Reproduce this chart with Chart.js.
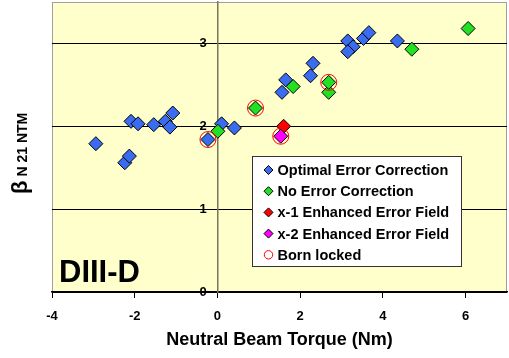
<!DOCTYPE html>
<html>
<head>
<meta charset="utf-8">
<script src="https://cdn.jsdelivr.net/npm/chart.js@4/dist/chart.umd.min.js"></script>
<style>
  body { margin: 0; background: #fff; }
  #wrap { width: 509px; height: 358px; }
</style>
</head>
<body>
<div id="wrap"><canvas id="chart"></canvas></div>
<script>
// values
const optimalX = [-2.94, -2.24, -2.13, -2.09, -1.92, -1.54, -1.26, -1.15, -1.08, -0.23, 0.10, 0.41, 1.56, 1.65, 2.25, 2.31, 3.15, 3.28, 3.15, 3.53, 3.66, 4.35];
const optimalY = [1.79, 1.56, 1.64, 2.06, 2.03, 2.02, 2.06, 1.99, 2.16, 1.84, 2.03, 1.98, 2.41, 2.56, 2.61, 2.76, 3.03, 2.96, 2.90, 3.06, 3.13, 3.03];
const noCorrX = [0.01, 0.92, 1.83, 2.69, 2.69, 4.70, 6.06];
const noCorrY = [1.94, 2.22, 2.48, 2.41, 2.53, 2.93, 3.18];
const enh1X = [1.60];
const enh1Y = [2.00];
const enh2X = [1.53];
const enh2Y = [1.88];
const lockedX = [-0.23, 0.92, 1.53, 2.69];
const lockedY = [1.84, 2.22, 1.88, 2.53];

const xTicks = [-4, -2, 0, 2, 4, 6];
const yTicks = [0, 1, 2, 3];

const pts = (xs, ys) => xs.map((x, i) => ({ x: x, y: ys[i] }));

const diamond = (label, xs, ys, color, order) => ({
    label: label,
    data: pts(xs, ys),
    pointStyle: 'rectRot',
    pointRadius: 7,
    pointHoverRadius: 7,
    backgroundColor: color,
    borderColor: '#000',
    borderWidth: 1,
    order: order
});

const ctx = document.querySelector('#chart').getContext('2d');

// yellow plot area with grey frame
const plotBack = {
    id: 'plotBack',
    beforeDraw(chart) {
        const a = chart.chartArea, c = chart.ctx;
        c.save();
        c.fillStyle = '#FFFFCC';
        c.fillRect(a.left, a.top, a.right - a.left, a.bottom - a.top);
        c.strokeStyle = '#A0A0A0';
        c.lineWidth = 1;
        c.strokeRect(a.left + 0.5, a.top + 0.5, a.right - a.left - 1, a.bottom - a.top);
        c.restore();
    }
};

// boxed legend inside the plot, DIII-D tag, rotated y title
const extras = {
    id: 'extras',
    afterDraw(chart) {
        const a = chart.chartArea, c = chart.ctx;
        c.save();

        // legend
        const lx = a.left + 200.5, ly = a.top + 154.5, lw = 209, lh = 110;
        c.fillStyle = '#fff';
        c.fillRect(lx, ly, lw, lh);
        c.strokeStyle = '#333';
        c.lineWidth = 1;
        c.strokeRect(lx, ly, lw, lh);
        c.font = 'bold 14.5px "Liberation Sans", Arial, sans-serif';
        c.textBaseline = 'middle';
        c.textAlign = 'left';
        chart.data.datasets.forEach((ds, i) => {
            const my = ly + 13.5 + i * 21.2, mx = lx + 16;
            c.beginPath();
            if (ds.pointStyle === 'circle') {
                c.arc(mx, my, 4.2, 0, Math.PI * 2);
                c.strokeStyle = ds.borderColor;
                c.stroke();
            } else {
                c.moveTo(mx, my - 4.5);
                c.lineTo(mx + 4.5, my);
                c.lineTo(mx, my + 4.5);
                c.lineTo(mx - 4.5, my);
                c.closePath();
                c.fillStyle = ds.backgroundColor;
                c.fill();
                c.strokeStyle = '#000';
                c.stroke();
            }
            c.fillStyle = '#000';
            c.fillText(ds.label, lx + 25, my + 1);
        });

        // DIII-D
        c.font = 'bold 31px "Liberation Sans", Arial, sans-serif';
        c.textBaseline = 'alphabetic';
        c.fillStyle = '#000';
        c.fillText('DIII-D', a.left + 7, a.bottom - 10);

        // y title: beta with subscript
        c.translate(27, 194);
        c.rotate(-Math.PI / 2);
        c.font = 'bold 22px "Liberation Sans", Arial, sans-serif';
        c.fillText('\u03B2', 0, 0);
        const bw = c.measureText('\u03B2').width;
        c.font = 'bold 14px "Liberation Sans", Arial, sans-serif';
        c.fillText('N 21 NTM', bw + 4, 0);
        c.restore();
    }
};

new Chart(ctx, {
    type: 'scatter',
    data: {
        datasets: [
            diamond('Optimal Error Correction', optimalX, optimalY, '#3A6CF0', 5),
            diamond('No Error Correction', noCorrX, noCorrY, '#22E022', 4),
            diamond('x-1 Enhanced Error Field', enh1X, enh1Y, '#FF0000', 3),
            diamond('x-2 Enhanced Error Field', enh2X, enh2Y, '#FF00FF', 2),
            {
                label: 'Born locked',
                data: pts(lockedX, lockedY),
                pointStyle: 'circle',
                pointRadius: 8,
                pointHoverRadius: 8,
                backgroundColor: 'rgba(0,0,0,0)',
                borderColor: '#FF0000',
                borderWidth: 1,
                order: 1
            }
        ]
    },
    options: {
        responsive: true,
        maintainAspectRatio: false,
        animation: false,
        layout: { autoPadding: false, padding: { left: 52, right: 2, top: 2, bottom: 0 } },
        plugins: {
            legend: { display: false },
            tooltip: { enabled: false }
        },
        scales: {
            x: {
                type: 'linear',
                min: -4,
                max: 7,
                afterBuildTicks: (s) => { s.ticks = xTicks.map(v => ({ value: v })); },
                afterFit: (s) => { s.height = 66; },
                ticks: {
                    includeBounds: false,
                    color: '#000',
                    padding: 11,
                    font: { family: '"Liberation Sans", Arial', size: 13, weight: 'bold' }
                },
                grid: { drawOnChartArea: false, drawTicks: true, tickLength: 6, color: '#000' },
                border: { color: '#000', width: 1.5 },
                title: {
                    display: true,
                    text: 'Neutral Beam Torque (Nm)',
                    color: '#000',
                    padding: { top: 0, bottom: 7.5 },
                    font: { family: '"Liberation Sans", Arial', size: 18, weight: 'bold' }
                }
            },
            y: {
                type: 'linear',
                min: 0,
                max: 3.5,
                position: { x: 0 },
                afterBuildTicks: (s) => { s.ticks = yTicks.map(v => ({ value: v })); },
                afterFit: (s) => { s.paddingTop = 0; s.paddingBottom = 0; },
                ticks: {
                    includeBounds: false,
                    color: '#000',
                    callback: (v) => v + '   ',
                    font: { family: '"Liberation Sans", Arial', size: 13, weight: 'bold' }
                },
                grid: { color: '#000', tickLength: 6 },
                border: { color: '#77775C', width: 1.5 }
            }
        }
    },
    plugins: [plotBack, extras]
});
</script>
</body>
</html>
